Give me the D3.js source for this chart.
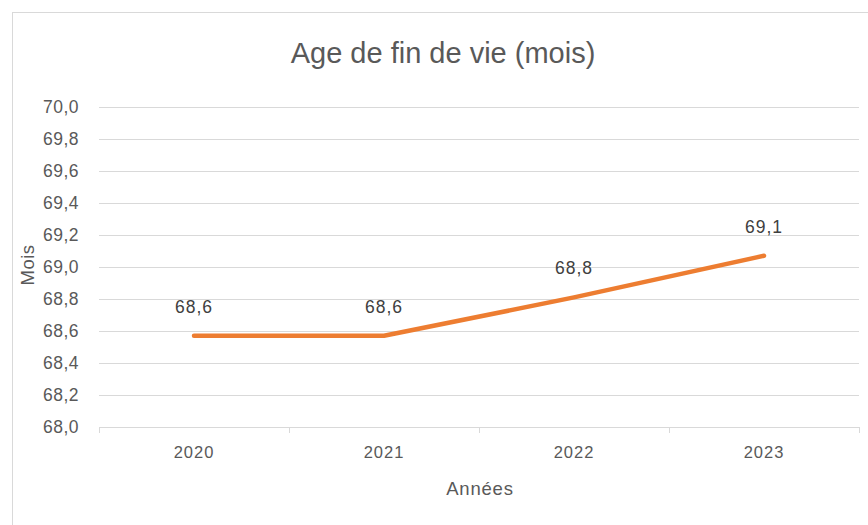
<!DOCTYPE html>
<html>
<head>
<meta charset="utf-8">
<script src="https://d3js.org/d3.v7.min.js"></script>
<style>
  body { margin: 0; background: #fff; }
</style>
</head>
<body>
<script>
var years = ['2020', '2021', '2022', '2023'];
var ageMois = [68.57, 68.57, 68.81, 69.07];
var yTicks = [68.0, 68.2, 68.4, 68.6, 68.8, 69.0, 69.2, 69.4, 69.6, 69.8, 70.0];

var W = 868, H = 525;
var sans = '"Liberation Sans", Arial, sans-serif';
var fmt = function (v) { return d3.format('.1f')(v).replace('.', ','); };

var svg = d3.select('body').append('svg')
    .attr('width', W).attr('height', H);

// chart frame
svg.append('rect')
    .attr('x', 12.5).attr('y', 12.5)
    .attr('width', W + 10).attr('height', H + 10)
    .attr('fill', '#fff').attr('stroke', '#d9d9d9');

var x = d3.scaleBand().domain(years).range([99, 859]);
var y = d3.scaleLinear().domain([68, 70]).range([427, 107]);

// gridlines
svg.append('g').selectAll('line').data(yTicks.slice(1)).join('line')
    .attr('x1', 99).attr('x2', 859)
    .attr('y1', function (d) { return Math.round(y(d)) + 0.5; })
    .attr('y2', function (d) { return Math.round(y(d)) + 0.5; })
    .attr('stroke', '#d9d9d9').attr('stroke-width', 1);

// y axis labels
var yAxis = d3.axisLeft(y).tickValues(yTicks).tickFormat(fmt).tickSize(0).tickPadding(20);
var gy = svg.append('g').attr('transform', 'translate(99,0)').call(yAxis);
gy.select('.domain').remove();
gy.selectAll('text').attr('fill', '#595959')
    .style('font-family', sans).style('font-size', '17.5px')
    .style('letter-spacing', '0.5px');

// x axis
var xAxis = d3.axisBottom(x).tickSize(0).tickPadding(19);
var gx = svg.append('g').attr('transform', 'translate(0,427.5)').call(xAxis);
gx.select('.domain').attr('stroke', '#d9d9d9').attr('d', 'M99,0H859');
gx.selectAll('text').attr('fill', '#595959')
    .style('font-family', sans).style('font-size', '16.5px')
    .style('letter-spacing', '1px');
// category boundary ticks
svg.append('g').selectAll('line').data(d3.range(years.length + 1)).join('line')
    .attr('x1', function (i) { return Math.round(99 + i * x.step()) + 0.5; })
    .attr('x2', function (i) { return Math.round(99 + i * x.step()) + 0.5; })
    .attr('y1', 427).attr('y2', 433)
    .attr('stroke', '#d9d9d9');

// line
var line = d3.line()
    .x(function (d, i) { return x(years[i]) + x.bandwidth() / 2; })
    .y(function (d) { return y(d); })
    .curve(d3.curveLinear);

svg.append('path').datum(ageMois)
    .attr('d', line)
    .attr('fill', 'none')
    .attr('stroke', '#ed7d31')
    .attr('stroke-width', 4.5)
    .attr('stroke-linejoin', 'round')
    .attr('stroke-linecap', 'round');

// data labels
svg.append('g').selectAll('text').data(ageMois).join('text')
    .attr('x', function (d, i) { return x(years[i]) + x.bandwidth() / 2; })
    .attr('y', function (d) { return y(d) - 23; })
    .attr('text-anchor', 'middle')
    .attr('fill', '#404040')
    .style('font-family', sans).style('font-size', '17.5px')
    .style('letter-spacing', '1px')
    .text(function (d) { return fmt(d); });

// title
svg.append('text')
    .attr('x', 443).attr('y', 63)
    .attr('text-anchor', 'middle')
    .attr('fill', '#595959')
    .style('font-family', sans).style('font-size', '29px')
    .text('Age de fin de vie (mois)');

// axis titles
svg.append('text')
    .attr('x', 480).attr('y', 495)
    .attr('text-anchor', 'middle')
    .attr('fill', '#595959')
    .style('font-family', sans).style('font-size', '18.5px')
    .style('letter-spacing', '0.8px')
    .text('Années');

svg.append('text')
    .attr('transform', 'translate(34,265) rotate(-90)')
    .attr('text-anchor', 'middle')
    .attr('fill', '#595959')
    .style('font-family', sans).style('font-size', '18.5px')
    .style('letter-spacing', '0.5px')
    .text('Mois');
</script>
</body>
</html>
